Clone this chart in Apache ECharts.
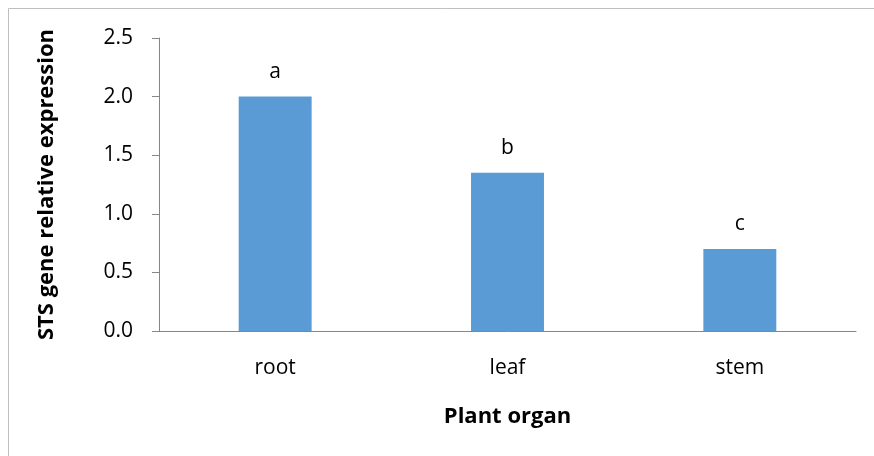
<!DOCTYPE html>
<html>
<head>
<meta charset="utf-8">
<script src="https://cdn.jsdelivr.net/npm/echarts@6/dist/echarts.min.js"></script>
<style>
  html, body { margin: 0; padding: 0; background: #fff; }
  #container { width: 874px; height: 456px; }
</style>
</head>
<body>
<div id="container"></div>
<script>
// data
var organs = ['root', 'leaf', 'stem'];
var expression = [2.0, 1.35, 0.7];
var letters = ['a', 'b', 'c'];
var yTicks = { min: 0, max: 2.5, interval: 0.5 };

var dom = document.getElementById("container");
var myChart = echarts.init(dom);
var font = '"Open Sans", sans-serif';
var axisGray = '#868686';

var option = {
    animation: false,
    backgroundColor: '#fff',
    graphic: [{
        type: 'rect',
        shape: { x: 8.5, y: 8.5, width: 880, height: 460 },
        style: { fill: 'none', stroke: '#bfbfbf', lineWidth: 1 }
    }],
    grid: { left: 159, right: 18, top: 38, bottom: 125 },
    xAxis: {
        type: 'category',
        data: organs,
        name: 'Plant organ',
        nameLocation: 'middle',
        nameGap: 75,
        nameTextStyle: { fontFamily: font, fontWeight: 'bold', fontSize: 22, color: '#000' },
        axisLine: { lineStyle: { color: axisGray } },
        axisTick: { length: 8, lineStyle: { color: axisGray } },
        axisLabel: { fontFamily: font, fontSize: 21, color: '#000', margin: 27 }
    },
    yAxis: {
        type: 'value',
        min: yTicks.min,
        max: yTicks.max,
        interval: yTicks.interval,
        name: 'STS gene relative expression',
        nameLocation: 'middle',
        nameGap: 101,
        nameTextStyle: { fontFamily: font, fontWeight: 'bold', fontSize: 22, color: '#000' },
        axisLine: { show: true, lineStyle: { color: axisGray } },
        axisTick: { show: true, length: 7, lineStyle: { color: axisGray } },
        splitLine: { show: false },
        axisLabel: {
            fontFamily: font, fontSize: 21, color: '#000', margin: 26,
            formatter: function (v) { return v.toFixed(1); }
        }
    },
    series: [{
        type: 'bar',
        data: expression,
        barWidth: '31.4%',
        itemStyle: { color: '#5b9bd5' },
        label: {
            show: true,
            position: 'top',
            distance: 14,
            fontFamily: font,
            fontSize: 21,
            color: '#000',
            formatter: function (p) { return letters[p.dataIndex]; }
        }
    }]
};

if (option && typeof option === "object") {
    myChart.setOption(option, true);
}
</script>
</body>
</html>
